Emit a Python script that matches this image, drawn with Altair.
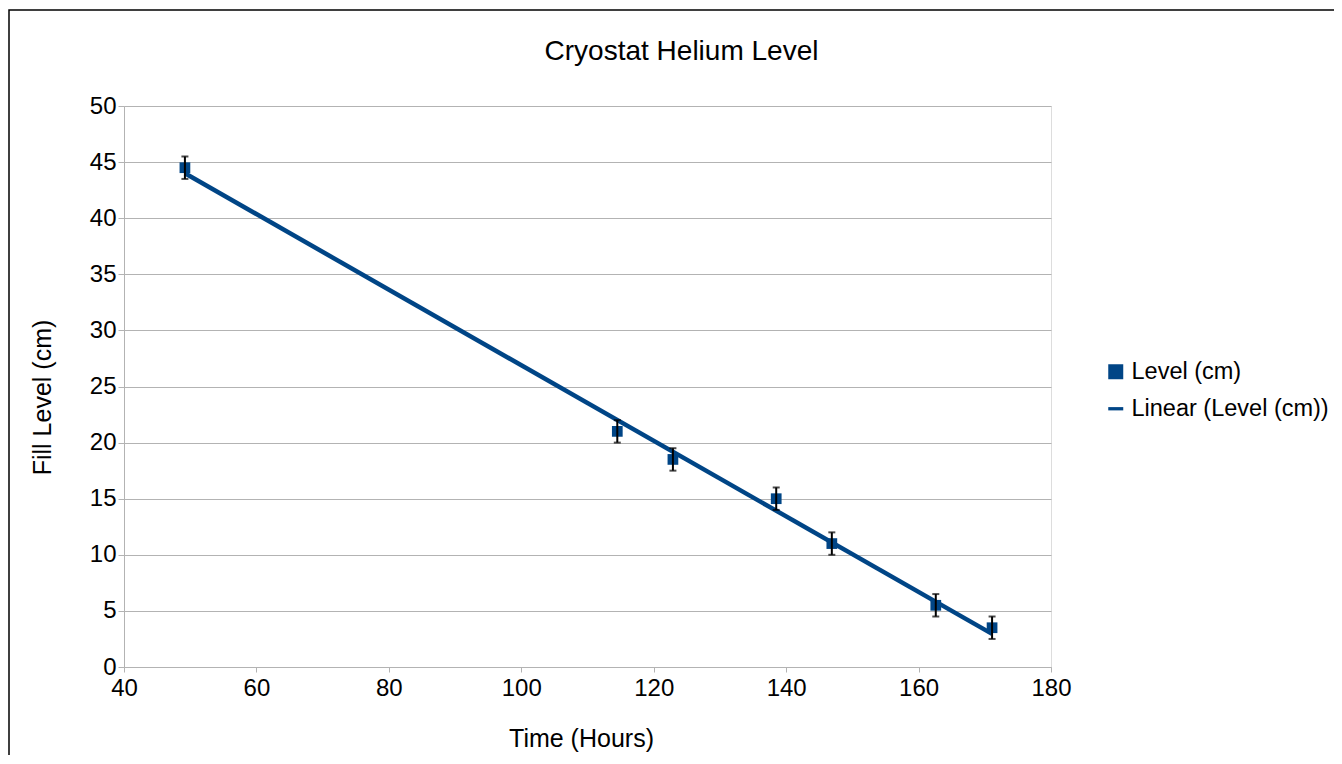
import altair as alt
import pandas as pd

time_hours = [49.2, 114.5, 122.9, 138.5, 146.9, 162.6, 171.1]
level_cm = [44.5, 21.0, 18.5, 15.0, 11.0, 5.5, 3.5]
error_cm = [1, 1, 1, 1, 1, 1, 1]
series = ["Level (cm)", "Linear (Level (cm))"]

df = pd.DataFrame({"t": time_hours, "lvl": level_cm, "err": error_cm,
                   "series": [series[0]] * len(time_hours)})

BLUE = "#004586"
FONT = "Liberation Sans"
GRID = "#b3b3b3"

xs = alt.Scale(domain=[40, 180], nice=False)
ys = alt.Scale(domain=[0, 50], nice=False)

base = alt.Chart(df)

x_axis = alt.Axis(title="Time (Hours)", values=list(range(40, 181, 20)), grid=False,
                  tickColor=GRID, tickSize=5, domainColor=GRID, labelFlush=False,
                  labelFontSize=24, titleFontSize=25, labelColor="black",
                  titleColor="black", titleFontWeight="normal", labelPadding=4,
                  titlePadding=26, titleX=457, labelFont=FONT, titleFont=FONT)
y_axis = alt.Axis(title="Fill Level (cm)", values=list(range(0, 51, 5)), grid=True,
                  gridColor=GRID, tickColor=GRID, tickSize=6, labelFlush=False,
                  domainColor=GRID, labelFontSize=24, titleFontSize=25,
                  labelColor="black", titleColor="black", titleFontWeight="normal",
                  labelPadding=2, titlePadding=34, titleY=291, labelFont=FONT, titleFont=FONT)

points = base.mark_point(filled=True, opacity=1, color=BLUE, size=115).encode(
    x=alt.X("t:Q", scale=xs, axis=x_axis),
    y=alt.Y("lvl:Q", scale=ys, axis=y_axis),
    shape=alt.Shape("series:N",
                    scale=alt.Scale(domain=series,
                                    range=["square", "M-1,-0.22H1V0.22H-1Z"]),
                    legend=alt.Legend(title=None, orient="none", legendX=980, legendY=254,
                                      labelFontSize=23.5, labelFont=FONT, labelColor="black",
                                      labelLimit=0, symbolSize=225,
                                      symbolFillColor=BLUE, symbolStrokeWidth=0,
                                      rowPadding=12, labelOffset=4)),
)

trend = base.mark_line(color=BLUE, strokeWidth=4.5).transform_regression(
    "t", "lvl"
).encode(x=alt.X("t:Q", scale=xs), y=alt.Y("lvl:Q", scale=ys))

errs = base.transform_calculate(
    lo="datum.lvl - datum.err", hi="datum.lvl + datum.err"
).mark_errorbar(ticks=alt.TickConfig(size=7, thickness=2), color="black", thickness=2).encode(
    x=alt.X("t:Q", scale=xs),
    y=alt.Y("lo:Q", scale=ys, title="Fill Level (cm)"),
    y2="hi:Q",
)

frame = base.mark_rect(fill=None, stroke="black", strokeWidth=1.5).encode(
    x=alt.value(-115), x2=alt.value(1240), y=alt.value(-96), y2=alt.value(720)
).transform_filter("datum.t < 50")

chart = alt.layer(frame, points, trend, errs).properties(
    width=927, height=561,
    title=alt.Title("Cryostat Helium Level", fontSize=28, font=FONT, fontWeight="normal",
                    color="black", anchor="middle", dx=94, offset=-57),
    autosize=alt.AutoSizeParams(type="none"),
    padding={"left": 116, "top": 98, "right": 283, "bottom": 88},
).configure_view(stroke=GRID, strokeWidth=1).configure(background="white")

chart.save("out.html", embed_options={"renderer": "svg", "actions": False})
